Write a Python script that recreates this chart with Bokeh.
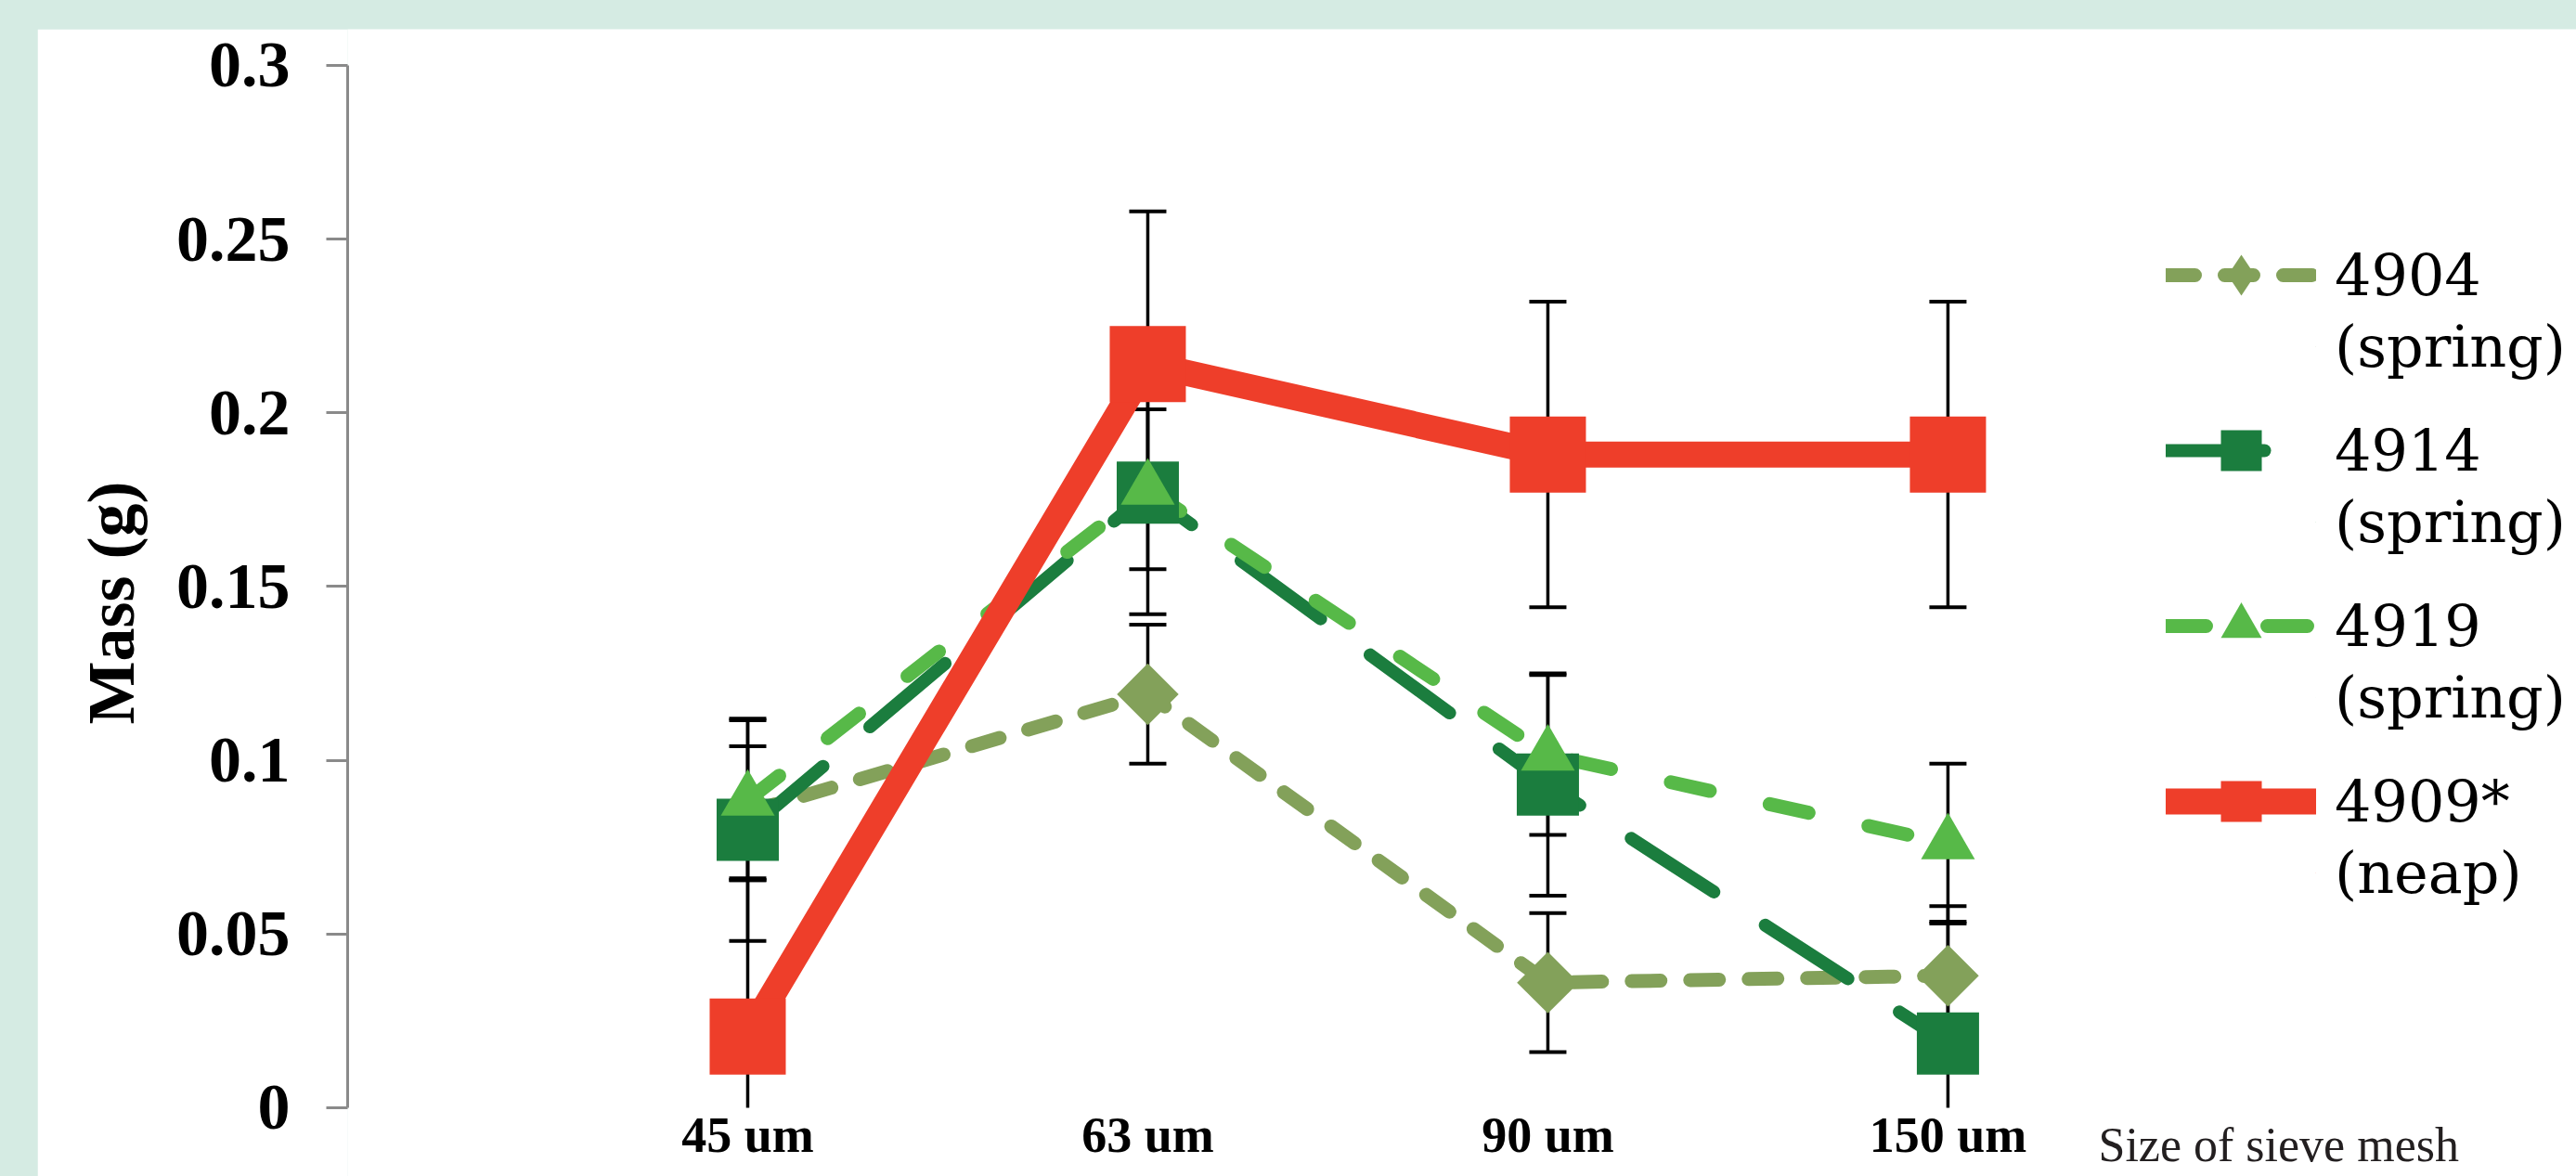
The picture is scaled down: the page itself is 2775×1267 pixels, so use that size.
from bokeh.plotting import figure
from bokeh.models import FixedTicker, Legend, LegendItem, Label, Spacer, BoxAnnotation
from bokeh.layouts import column, row
from bokeh.embed import file_html
from bokeh.resources import INLINE

# ---------------- data ----------------
categories = ["45 um", "63 um", "90 um", "150 um"]
series_names = ["4904", "4914", "4919", "4909*"]
series_groups = ["(spring)", "(spring)", "(spring)", "(neap)"]

mass_4904 = [0.085, 0.119, 0.036, 0.038]
err_4904 = [0.019, 0.020, 0.020, 0.020]
mass_4914 = [0.080, 0.177, 0.093, 0.0185]
err_4914 = [0.032, 0.035, 0.032, 0.035]
mass_4919 = [0.0885, 0.178, 0.1015, 0.076]
err_4919 = [0.023, 0.023, 0.023, 0.023]
mass_4909 = [0.0205, 0.214, 0.188, 0.188]
err_4909 = [0.045, 0.044, 0.044, 0.044]

y_ticks = [0, 0.05, 0.1, 0.15, 0.2, 0.25, 0.3]
y_tick_labels = ["0", "0.05", "0.1", "0.15", "0.2", "0.25", "0.3"]

y_title = "Mass (g)"
x_title = "Size of sieve mesh"

# ---------------- styles ----------------
colors = ["#83a15a", "#1b7d3e", "#57b948", "#ee3e2a"]
dashes = ["31 32", "106 66", "43 66", "solid"]
widths = [15, 14, 15, 28]
markers = ["square", "square", "triangle", "square"]
marker_sizes = [47, 67, 58, 82]
marker_angles = [0.785398, 0, 0, 0]

BG_GREEN = "#d5ebe3"
SERIF = "Liberation Serif"
LEGEND_FONT = "DejaVu Serif"

x_pos = list(range(1, len(categories) + 1))
all_mass = [mass_4904, mass_4914, mass_4919, mass_4909]
all_err = [err_4904, err_4914, err_4919, err_4909]

p = figure(width=2735, height=1236, x_range=(0, 5.571), y_range=(-0.0198, 0.3104),
           output_backend="svg", toolbar_location=None,
           min_border_left=334, min_border_top=0, min_border_bottom=0,
           min_border_right=0)
p.background_fill_color = "white"
p.border_fill_color = "white"
p.outline_line_color = None
p.xgrid.visible = False
p.ygrid.visible = False

# x axis, drawn at y = 0 inside the frame
xa = p.xaxis[0]
xa.fixed_location = 0
xa.ticker = FixedTicker(ticks=x_pos)
xa.major_label_overrides = {xv: c for xv, c in zip(x_pos, categories)}
xa.axis_line_color = None
xa.major_tick_line_color = None
xa.minor_tick_line_color = None
xa.major_tick_out = 0
xa.major_tick_in = 0
xa.major_label_standoff = 0
xa.major_label_text_font = SERIF
xa.major_label_text_font_style = "bold"
xa.major_label_text_font_size = "54px"
xa.major_label_text_color = "black"

# y axis (only spans 0 .. 0.3)
ya = p.yaxis[0]
ya.bounds = (0, 0.3)
ya.ticker = FixedTicker(ticks=y_ticks)
ya.major_label_overrides = {t: s for t, s in zip(y_ticks, y_tick_labels)}
ya.axis_line_color = "#8a8a8a"
ya.axis_line_width = 3
ya.major_tick_line_color = "#8a8a8a"
ya.major_tick_line_width = 3
ya.major_tick_out = 23
ya.major_tick_in = 0
ya.minor_tick_line_color = None
ya.major_label_standoff = 39
ya.major_label_text_font = SERIF
ya.major_label_text_font_style = "bold"
ya.major_label_text_font_size = "70px"
ya.major_label_text_color = "black"
ya.axis_label = y_title
ya.axis_label_text_font = SERIF
ya.axis_label_text_font_style = "bold"
ya.axis_label_text_font_size = "72px"
ya.axis_label_text_color = "black"
ya.axis_label_standoff = 27

# error bars
for m, e in zip(all_mass, all_err):
    up = [v + d for v, d in zip(m, e)]
    lo = [v - d for v, d in zip(m, e)]
    p.segment(x0=x_pos, y0=lo, x1=x_pos, y1=up, line_color="black", line_width=3.5)
    p.scatter(x=x_pos, y=up, marker="dash", size=40, line_color="black", line_width=4)
    p.scatter(x=x_pos, y=lo, marker="dash", size=40, line_color="black", line_width=4)

line_rs = []
for m, c, d, w in zip(all_mass, colors, dashes, widths):
    r = p.line(x=x_pos, y=m, line_color=c, line_width=w, line_dash=d,
               line_cap="round", line_join="round")
    line_rs.append(r)

marker_rs = []
for m, c, mk, s, a in zip(all_mass, colors, markers, marker_sizes, marker_angles):
    r = p.scatter(x=x_pos, y=m, marker=mk, size=s, angle=a,
                  fill_color=c, line_color=None)
    marker_rs.append(r)

# diamond symbol used for the 4904 legend entry (zero size in the plot area)
legend_diamond = p.scatter(x=x_pos, y=mass_4904, marker="diamond", size=0,
                           fill_color=colors[0], line_color=None)
legend_markers = [legend_diamond] + marker_rs[1:]

# the original clips everything at the bottom of the value axis (y = 0)
clip_below_zero = BoxAnnotation(top=0, fill_color="white", fill_alpha=1.0,
                                line_color=None, level="glyph")
p.renderers.append(clip_below_zero)

legend_common = dict(glyph_height=110, spacing=79, padding=0, margin=0,
                     border_line_color=None, background_fill_alpha=0,
                     label_text_font=LEGEND_FONT, label_text_font_size="62px",
                     label_text_color="black", label_standoff=20)

legend_a = Legend(items=[LegendItem(label=n, renderers=[lr, mr])
                         for n, lr, mr in zip(series_names, line_rs, legend_markers)],
                  location=(1959, 349), glyph_width=162, **legend_common)
legend_b = Legend(items=[LegendItem(label=g, renderers=[mr])
                         for g, mr in zip(series_groups, marker_rs)],
                  location=(2120, 272), glyph_width=1, **legend_common)
p.add_layout(legend_a)
p.add_layout(legend_b)

p.add_layout(Label(x=1886, y=34, x_units="screen", y_units="screen", text=x_title,
                   text_font=SERIF, text_font_size="52px", text_color="#231f20",
                   text_baseline="middle"))

layout = column(Spacer(width=2775, height=31),
                row(Spacer(width=40, height=1236), p),
                styles={"background-color": BG_GREEN})

open("out.html", "w").write(file_html(layout, INLINE))
